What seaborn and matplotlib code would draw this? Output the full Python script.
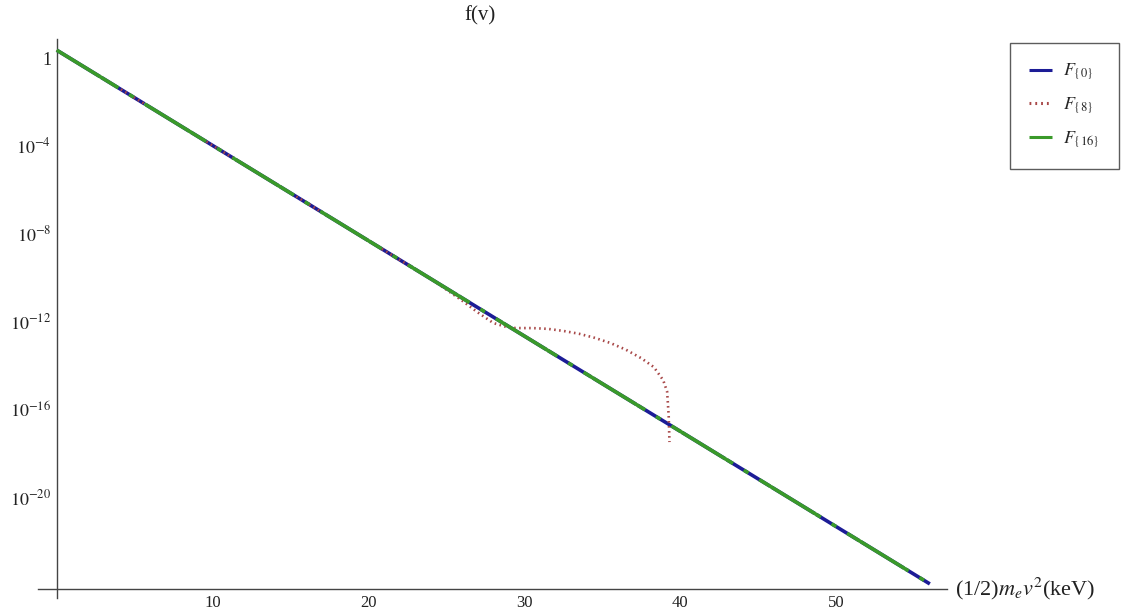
import numpy as np
import pandas as pd
import matplotlib
matplotlib.use("Agg")
import matplotlib.pyplot as plt
import matplotlib.ticker as mticker
import seaborn as sns

# ---- data ----
energy_f0 = [0, 8, 16, 24, 32, 40, 48, 56]
values_f0 = [2.3, 7.7e-4, 2.6e-7, 8.7e-11, 2.9e-14, 9.8e-18, 3.3e-21, 1.1e-24]

energy_f8 = [0, 8, 16, 24, 25, 26, 27, 28, 29, 29.5, 30.5, 31.5, 32.5, 33.5,
             34.5, 35.5, 36.5, 37.5, 38.3, 38.9, 39.15, 39.25, 39.3]
values_f8 = [2.3, 7.7e-4, 2.6e-7, 8.7e-11, 2.8e-11, 8.9e-12, 2.6e-12, 8.5e-13,
             5.2e-13, 5.0e-13, 5.0e-13, 4.6e-13, 3.7e-13, 2.75e-13, 1.8e-13,
             1.05e-13, 5.2e-14, 2.1e-14, 8.3e-15, 2.1e-15, 6.3e-16, 5.0e-17, 3.2e-18]

energy_f16 = [0, 8, 16, 24, 32, 40, 48, 56]
values_f16 = [2.3, 7.7e-4, 2.6e-7, 8.7e-11, 2.9e-14, 9.8e-18, 3.3e-21, 1.1e-24]

series_names = [r"$F_{\{0\}}$", r"$F_{\{8\}}$", r"$F_{\{16\}}$"]
x_ticks = [10, 20, 30, 40, 50]
y_exponents = [0, -4, -8, -12, -16, -20, -24]
y_tick_labels = ["1", r"$10^{-4}$", r"$10^{-8}$", r"$10^{-12}$", r"$10^{-16}$", r"$10^{-20}$", ""]
title_text = "f(v)"
xlabel_text = r"(1/2)$m_e v^2$(keV)"

# ---- styling ----
sns.set_style("white")
plt.rcParams["font.family"] = ["Liberation Serif", "DejaVu Serif"]
plt.rcParams["mathtext.fontset"] = "stix"

W, H = 1122, 613
fig = plt.figure(figsize=(W / 100, H / 100), dpi=100)
ax = fig.add_axes([38 / W, 1 - 598 / H, (947 - 38) / W, (598 - 39) / H])

ax.set_yscale("log")
ax.set_xlim(-1.2, 57.1)
ax.set_ylim(10 ** -24.6, 10 ** 0.87)

c_blue = "#1c1c96"
c_red = "#a84848"
c_green = "#3a9a2a"

sns.lineplot(x=energy_f0, y=values_f0, ax=ax, color=c_blue, linewidth=2.6,
             sort=False, label=series_names[0], zorder=3)
ax.lines[-1].set_linestyle((0, (14, 0.5)))
sns.lineplot(x=energy_f8, y=values_f8, ax=ax, color=c_red, linewidth=1.9,
             sort=False, label=series_names[1], zorder=4)
ax.lines[-1].set_linestyle((0, (0.6, 1.3)))
sns.lineplot(x=energy_f16, y=values_f16, ax=ax, color=c_green, linewidth=2.6,
             sort=False, label=series_names[2], zorder=5)
ax.lines[-1].set_linestyle((0, (20, 3.5, 1.5, 3.5)))

# axes through origin-like positions
for s in ["top", "right"]:
    ax.spines[s].set_visible(False)
ax.spines["left"].set_position(("data", 0))
ax.spines["bottom"].set_position(("data", 10 ** -24.19))
for s in ["left", "bottom"]:
    ax.spines[s].set_color("#444444")
    ax.spines[s].set_linewidth(1.0)

# x ticks
ax.xaxis.set_major_locator(mticker.FixedLocator(x_ticks))
ax.xaxis.set_minor_locator(mticker.FixedLocator([v for v in range(2, 57, 2) if v % 10 != 0]))
ax.set_xticklabels([str(v) for v in x_ticks])
ax.tick_params(axis="x", which="major", direction="in", length=4, width=0.8,
               colors="#444444", labelcolor="#222222", labelsize=12, pad=4)
ax.tick_params(axis="x", which="minor", direction="in", length=2.5, width=0.6, colors="#444444")

# y ticks
ymaj = [10.0 ** e for e in y_exponents]
ax.yaxis.set_major_locator(mticker.FixedLocator(ymaj))
ax.set_yticklabels(y_tick_labels)
ymin = [k * 10.0 ** (e - 1) for e in y_exponents for k in range(2, 10)]
ax.yaxis.set_minor_locator(mticker.FixedLocator(ymin))
ax.yaxis.set_minor_formatter(mticker.NullFormatter())
ax.tick_params(axis="y", which="major", direction="in", length=4, width=0.8,
               colors="#444444", labelcolor="#222222", labelsize=13, pad=4)
ax.tick_params(axis="y", which="minor", direction="in", length=2.5, width=0.6, colors="#444444")

ax.set_xlabel("")
ax.set_ylabel("")

# labels
fig.text(480 / W, 1 - 16 / H, title_text, ha="center", va="center", fontsize=15, color="#222222")
ax.text(57.6, 10 ** -24.19, xlabel_text, ha="left", va="center", fontsize=16,
        color="#222222", clip_on=False)

# legend
leg = ax.legend(loc="upper left", bbox_to_anchor=(1010 / W, 1 - 43 / H),
                bbox_transform=fig.transFigure, frameon=True, fancybox=False,
                fontsize=13, handlelength=1.3, labelspacing=0.75, borderpad=1.05,
                handletextpad=0.6, borderaxespad=0.0)
leg.get_frame().set_edgecolor("#333333")
leg.get_frame().set_linewidth(1.0)
for h in leg.get_lines():
    h.set_linewidth(2.2)

fig.savefig("out.png", dpi=100)
